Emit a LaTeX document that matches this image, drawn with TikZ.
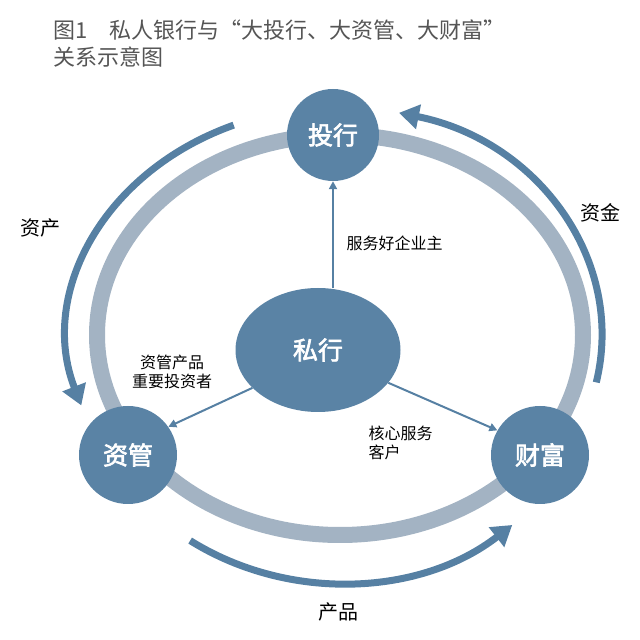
\documentclass[tikz,border=0pt]{standalone}
\usepackage{fontspec}
\setmainfont{Noto Sans CJK SC}
\newfontfamily\boldcjk[FakeBold=2.5]{Noto Sans CJK SC}
\usetikzlibrary{arrows.meta,shapes.geometric}
\definecolor{nodeblue}{HTML}{5A83A5}
\definecolor{ringgray}{HTML}{A3B3C3}
\definecolor{arrblue}{HTML}{5680A3}
\definecolor{txt}{HTML}{555555}
\tikzset{
 bubble/.style={circle,fill=nodeblue,text=white,font=\boldcjk\fontsize{25}{28}\selectfont,inner sep=0pt},
 bigarrow/.style={line width=7pt,arrblue,-{Triangle[length=20pt,width=24pt]}},
 thinarrow/.style={line width=2pt,arrblue,-{Triangle[length=8pt,width=8pt]}},
 lab/.style={font=\fontsize{16}{19}\selectfont,text=black,align=left},
 outerlab/.style={font=\fontsize{20}{23}\selectfont,text=black}
}
\begin{document}
\begin{tikzpicture}[x=1pt,y=1pt]
\useasboundingbox (0,0) rectangle (640,640);
\node[anchor=west,text=txt,font=\fontsize{22}{27}\selectfont,align=left] (title) at (50,596) {图1\quad 私人银行与“大投行、大资管、大财富”\\关系示意图};
\draw[ringgray,line width=16pt] (340,305) ellipse [x radius=243,y radius=200];
\node[bubble,minimum size=92pt] (tou) at (333,505) {投行};
\node[bubble,minimum size=98pt] (zi) at (128,185) {资管};
\node[bubble,minimum size=98pt] (cai) at (540,185) {财富};
\node[ellipse,fill=nodeblue,text=white,font=\boldcjk\fontsize{25}{28}\selectfont,minimum width=165pt,minimum height=124pt,inner sep=0pt] (si) at (318,290) {私行};
\draw[thinarrow] (si.north -| tou) -- (tou.south);
\draw[thinarrow] (si.210) -- (zi.35);
\draw[thinarrow] (si.-25) -- (cai.150);
\draw[bigarrow] (340,305) ++(113:272 and 228) arc[start angle=113,end angle=198,x radius=272,y radius=228];
\draw[bigarrow] (340,305) ++(-12:262 and 228) arc[start angle=-12,end angle=77,x radius=262,y radius=228];
\draw[bigarrow] (340,305) ++(236:268 and 248) arc[start angle=236,end angle=310,x radius=268,y radius=248];
\node[lab,anchor=west] (l1) at (343,397) {服务好企业主};
\node[lab,align=center] (l2) at (172,268) {资管产品\\重要投资者};
\node[lab,anchor=west] (l3) at (365,197) {核心服务\\客户};
\node[outerlab] (o1) at (40,412) {资产};
\node[outerlab] (o2) at (600,427) {资金};
\node[outerlab] (o3) at (338,28) {产品};
\end{tikzpicture}
\end{document}
